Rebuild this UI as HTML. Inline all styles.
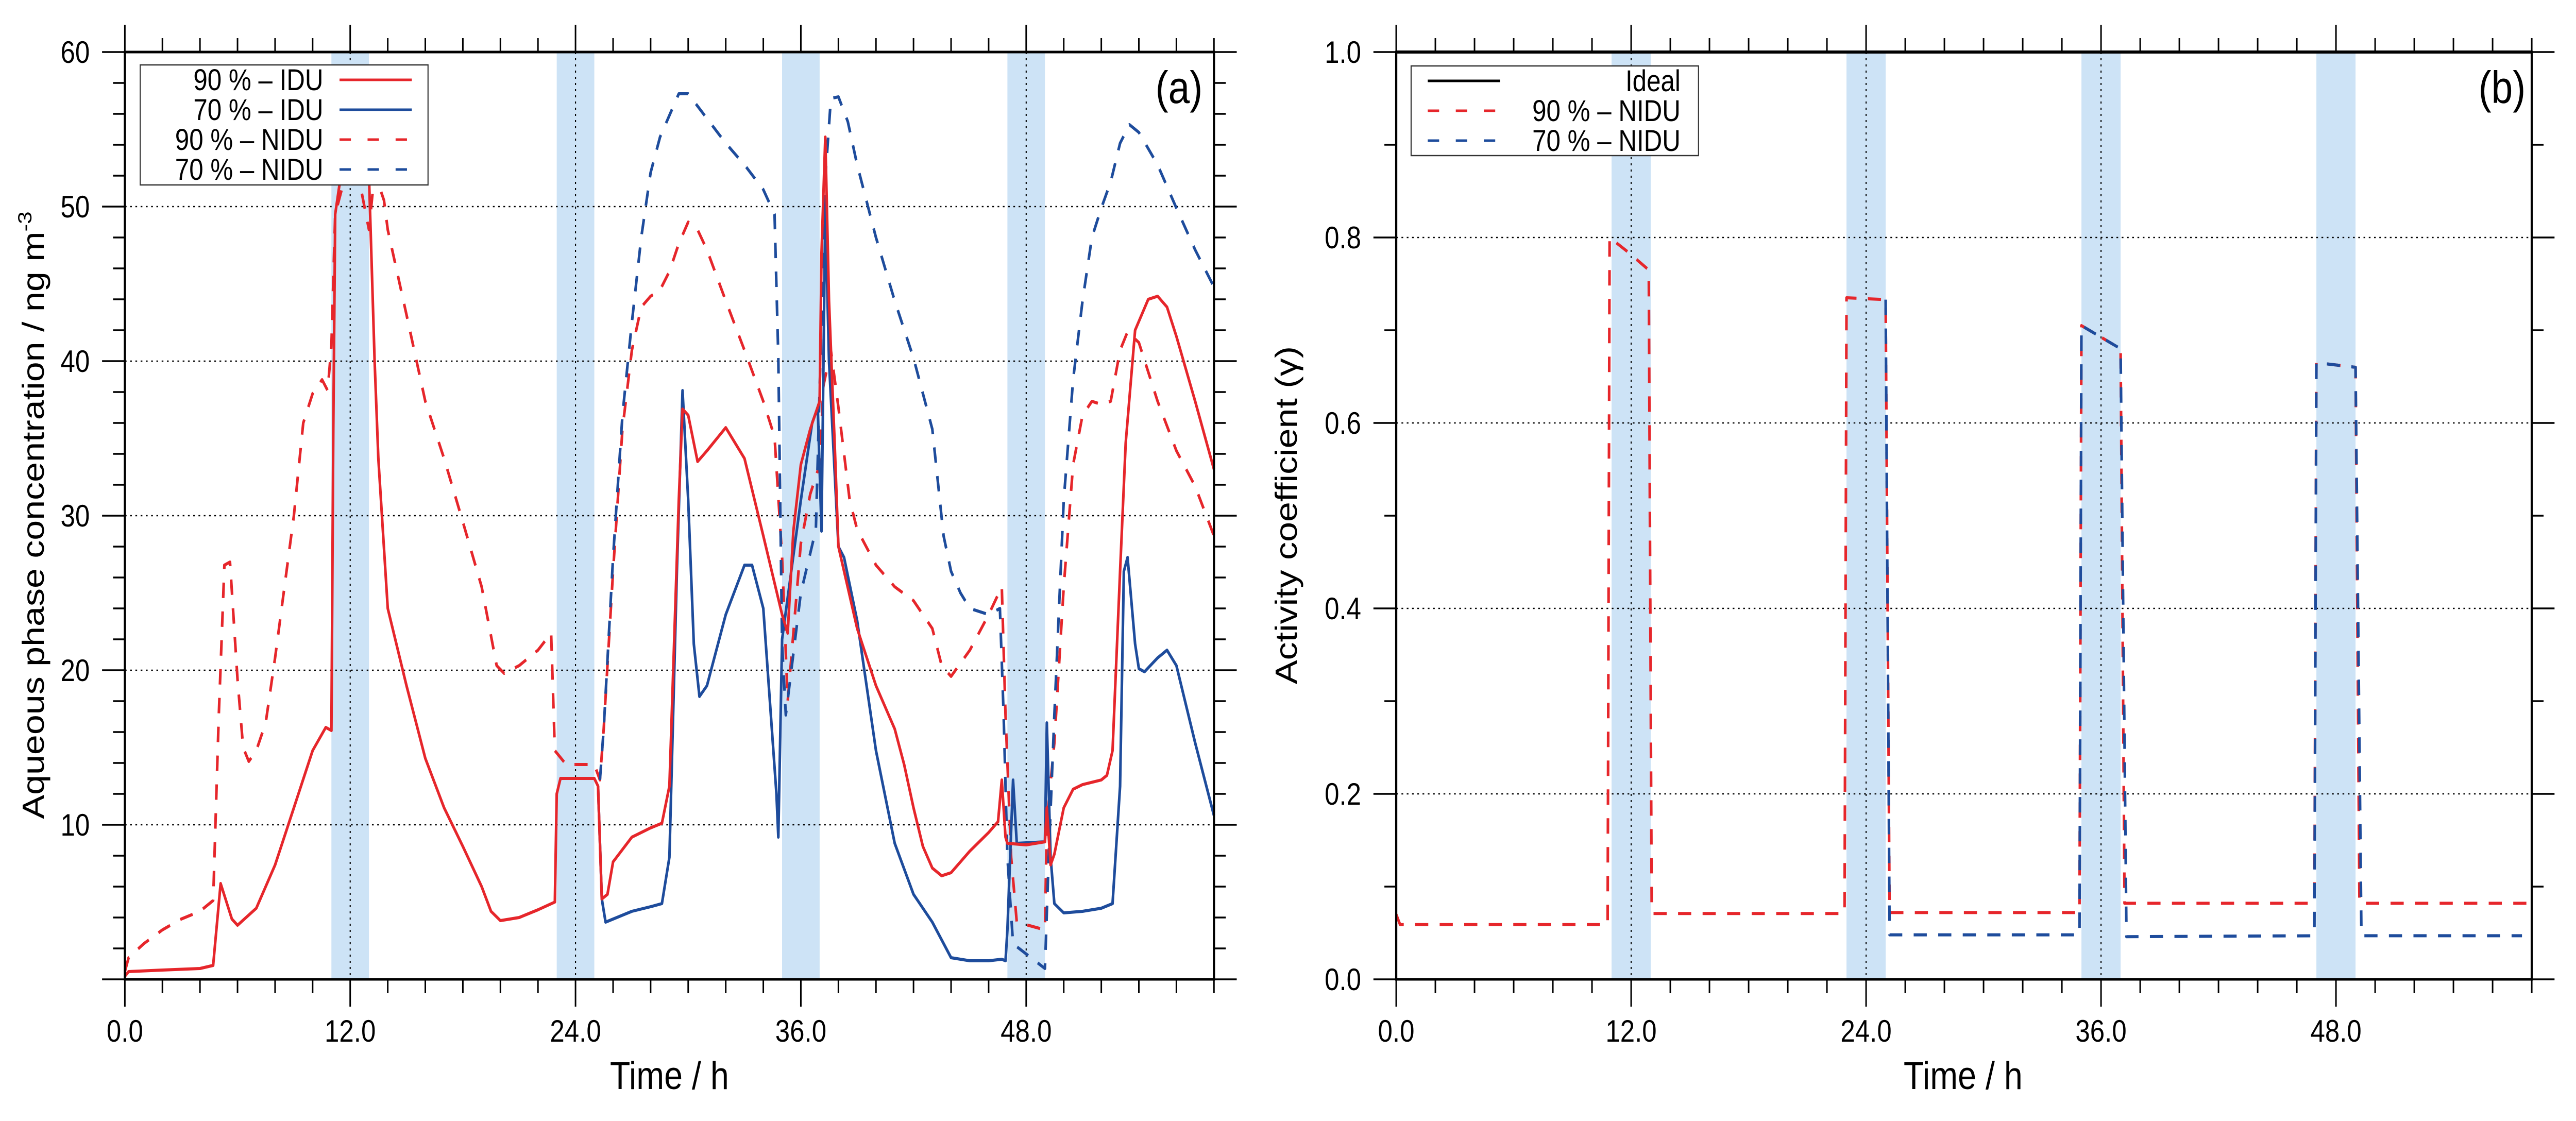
<!DOCTYPE html>
<html><head><meta charset="utf-8"><style>
html,body{margin:0;padding:0;background:#fff;overflow:hidden;width:100%;height:100%;}
svg{display:block;width:100vw;height:100vh;font-family:"Liberation Sans",sans-serif;}
.n{font-family:"Liberation Sans Narrow","Liberation Sans",sans-serif;}
</style></head><body>
<svg id="fig" viewBox="0 0 5880 2176" preserveAspectRatio="none" xmlns="http://www.w3.org/2000/svg">
<rect width="5880" height="2176" fill="#fff"/>
<g id="pa"></g>
<g id="pb"></g>
</svg>
<script>
// ---- data ----
const xTicks = [0, 12, 24, 36, 48];
const xTickLabels = ["0.0", "12.0", "24.0", "36.0", "48.0"];
const bands = [[11, 13], [23, 25], [35, 37], [47, 49]];
const aYTicks = [10, 20, 30, 40, 50, 60];
const aYTickLabels = ["10", "20", "30", "40", "50", "60"];
const bYTicks = [0, 0.2, 0.4, 0.6, 0.8, 1.0];
const bYTickLabels = ["0.0", "0.2", "0.4", "0.6", "0.8", "1.0"];

const idu90 = [[0,0.2],[0.2,0.5],[2,0.6],[4,0.7],[4.7,0.9],[5.1,6.2],[5.7,3.9],[6,3.5],[7,4.6],[8,7.4],[9,11.1],[10,14.8],[10.7,16.3],[11,16.1],[11.1,35.6],[11.2,49.5],[11.5,52],[12,55],[12.8,54],[13,52],[13.3,40],[13.5,33.7],[14,24],[15,19],[16,14.3],[17,11.1],[18,8.6],[19,6],[19.5,4.4],[20,3.8],[21,4],[22,4.5],[22.9,5.0],[23,12],[23.2,13],[25,13],[25.2,12.5],[25.4,5.2],[25.7,5.5],[26,7.6],[27,9.2],[28,9.8],[28.6,10.1],[29,12.5],[29.5,31],[29.7,36.9],[30,36.5],[30.5,33.5],[31,34.2],[32,35.7],[33,33.7],[34,28.7],[35,23.6],[35.3,22.4],[35.6,29],[36,33.3],[36.5,35.6],[37,37.4],[37.1,47],[37.3,54.5],[37.5,43.9],[37.8,34.7],[38,28],[39,22.7],[40,19],[41,16.2],[41.5,13.9],[42,11.1],[42.5,8.6],[43,7.2],[43.5,6.7],[44,6.9],[45,8.3],[46,9.5],[46.5,10.2],[46.7,12.9],[46.9,9.2],[47,8.8],[48,8.7],[49,8.9],[49.1,11.1],[49.3,7.4],[49.5,8.1],[50,11.1],[50.5,12.3],[51,12.6],[52,12.9],[52.3,13.2],[52.6,14.8],[53,26.4],[53.3,34.7],[53.8,42],[54.5,44],[55,44.2],[55.5,43.5],[56,41.6],[57,37.4],[58,33]];
const idu70 = [[25.2,12.5],[25.4,5.2],[25.6,3.7],[26,3.9],[27,4.4],[28,4.7],[28.6,4.9],[29,7.9],[29.4,26.4],[29.7,38.1],[30,31],[30.3,21.7],[30.6,18.3],[31,19],[32,23.6],[33,26.8],[33.4,26.8],[34,24],[34.7,12],[34.8,9.2],[35,22],[36,31],[36.6,36],[36.9,37],[37.1,29],[37.3,50],[37.5,40],[38,28],[38.3,27.3],[39,23.2],[40,14.8],[41,8.8],[42,5.5],[43,3.7],[44,1.4],[45,1.2],[46,1.2],[46.7,1.3],[46.9,1.2],[47,3.2],[47.3,12.9],[47.5,8.8],[49,8.9],[49.1,16.6],[49.3,7.9],[49.5,4.9],[50,4.3],[51,4.4],[52,4.6],[52.6,4.9],[53,12.5],[53.2,26.4],[53.4,27.3],[53.8,21.7],[54,20.1],[54.3,19.9],[55,20.8],[55.5,21.3],[56,20.3],[57,15.3],[58,10.6]];
const nidu90 = [[0,0.5],[0.2,1.4],[1,2.3],[2,3.2],[3,3.9],[4,4.4],[4.7,5.1],[5,17],[5.3,26.8],[5.6,27],[6,19.4],[6.3,15],[6.6,14.1],[7,14.8],[7.5,16.6],[8,20.8],[9,30],[9.5,36],[10,37.9],[10.5,38.8],[10.8,38.1],[11,41],[11.2,49.5],[11.7,51.8],[12.5,51.6],[13,48.5],[13.3,52.2],[13.8,50.4],[14,48.5],[15,43],[16,37.4],[17,33.7],[18,29.6],[19,25.4],[19.8,20.3],[20.2,19.8],[21,20.3],[22,21.3],[22.7,22.4],[22.9,14.8],[23.5,13.9],[25,13.9],[25.3,12.9],[25.5,16.2],[26,26.4],[26.5,35.6],[27,40.7],[27.5,43.5],[28,44.2],[28.5,44.6],[29,45.8],[29.5,47.6],[30,49],[30.5,48.5],[31,47.2],[32,43.9],[33,40.7],[34,37.4],[34.6,35.1],[35,27.3],[35.3,18],[36,28.2],[36.5,31.4],[37,33.3],[37.2,38.4],[37.6,40.7],[38,37],[38.6,31],[39,29.1],[40,26.8],[41,25.4],[42,24.5],[43,22.7],[43.5,20.3],[44,19.6],[45,21.3],[46,23.6],[46.7,25.4],[46.9,17.1],[47.2,7.9],[47.5,3.7],[49,3.2],[49.1,10.2],[49.5,15.3],[50,25.4],[50.5,33.3],[51,36.5],[51.5,37.4],[52,37.2],[52.5,37.4],[53,40.7],[53.4,41.9],[54,41.2],[55,37.4],[56,34.2],[57,31.9],[58,28.7]];
const nidu70 = [[25.3,12.9],[25.5,16.2],[26,27.3],[26.5,36.5],[27,42.5],[27.5,48],[28,52.2],[28.5,54.5],[29,55.9],[29.5,57.3],[30,57.3],[31,55.7],[32,54.1],[33,52.7],[34,51.1],[34.6,49.5],[34.8,40.2],[35,21.7],[35.2,17.1],[36,25],[36.8,29.1],[37.3,51.8],[37.6,57],[38,57.1],[38.5,55.5],[39,52.7],[40,48],[41,43.9],[42,40.2],[43,35.6],[43.6,28.7],[44,26.4],[44.5,25],[45,24],[46,23.6],[46.6,24],[46.8,17.1],[47,7.9],[47.3,2.3],[49,0.7],[49.2,7.9],[49.5,17.1],[50,31],[50.5,38.8],[51,43.9],[51.5,48],[52,49.9],[52.5,51.6],[53,54.1],[53.5,55.3],[54,54.8],[55,52.7],[56,49.9],[57,47.2],[58,44.8]];

const ideal = [[0,1],[58,1]];
const gamma90 = [[0,0.07],[0.2,0.059],[10.8,0.059],[10.9,0.8],[11.8,0.785],[12.9,0.765],[13.05,0.071],[22.9,0.071],[23,0.735],[25,0.733],[25.2,0.072],[34.9,0.072],[35,0.705],[37,0.68],[37.2,0.082],[46.9,0.082],[47,0.665],[49,0.66],[49.2,0.082],[58,0.082]];
const gamma70 = [[25,0.733],[25.2,0.048],[34.9,0.048],[35,0.705],[37,0.68],[37.3,0.046],[46.9,0.047],[47,0.665],[49,0.66],[49.3,0.047],[57.5,0.047]];

// ---- layout ----
const NS = "http://www.w3.org/2000/svg";
const TOP = 101, BOT = 1901, XMAX = 58;
const RED = "#e6262b", BLUE = "#1e4c9c", BAND = "#cde3f6";
function mk(parent, tag, attrs, txt) {
  const e = document.createElementNS(NS, tag);
  for (const k in attrs) e.setAttribute(k, attrs[k]);
  if (txt !== undefined) e.textContent = txt;
  parent.appendChild(e);
  return e;
}
function panel(g, L, R, ymax, yTicks, yLabels, yMinorStep, gridY, gridX) {
  const xs = h => L + h * (R - L) / XMAX;
  const ys = v => BOT - v * (BOT - TOP) / ymax;
  for (const b of bands) {
    const r = mk(g, "rect", {x: xs(b[0]), y: TOP, width: xs(b[1]) - xs(b[0]), height: BOT - TOP, fill: BAND});
    
    
  }
  for (const v of gridY) {
    const l = mk(g, "line", {x1: L, x2: R, y1: ys(v), y2: ys(v), stroke: "#000", "stroke-width": 2.5, "stroke-dasharray": "4 8"});
    
    
  }
  for (const h of gridX) {
    const l = mk(g, "line", {x1: xs(h), x2: xs(h), y1: TOP, y2: BOT, stroke: "#000", "stroke-width": 2.5, "stroke-dasharray": "4 8"});
    
    
  }
  for (let h = 0; h <= XMAX; h += 2) {
    const major = h % 12 === 0;
    const len = major ? 53 : 27;
    const t1 = mk(g, "line", {x1: xs(h), x2: xs(h), y1: TOP, y2: TOP - len, stroke: "#000", "stroke-width": 3.5});
    
    
    const t2 = mk(g, "line", {x1: xs(h), x2: xs(h), y1: BOT, y2: BOT + len, stroke: "#000", "stroke-width": 3.5});
    
    
  }
  xTicks.forEach((h, i) => {
    const t = mk(g, "text", {x: xs(h), y: 2022, "font-size": 60, "text-anchor": "middle", "class": "n"}, xTickLabels[i]);
    
    
  });
  for (let v = 0; v <= ymax + 1e-9; v += yMinorStep) {
    const isMajor = yTicks.some(m => Math.abs(m - v) < 1e-6) || Math.abs(v) < 1e-9;
    const len = isMajor ? 52 : 27;
    const y = ys(v);
    const a = mk(g, "line", {x1: L, x2: L - len, y1: y, y2: y, stroke: "#000", "stroke-width": 3.5});
    
    
    const b = mk(g, "line", {x1: R, x2: R + len, y1: y, y2: y, stroke: "#000", "stroke-width": 3.5});
    
    
  }
  yTicks.forEach((v, i) => {
    const t = mk(g, "text", {x: L - 80, y: ys(v) + 21, "font-size": 60, "text-anchor": "end", "class": "n"}, yLabels[i]);
    
    
  });
  return {xs, ys};
}
function series(g, sc, pts, color, dashed, name) {
  const d = pts.map((p, i) => (i ? "L" : "M") + sc.xs(p[0]).toFixed(1) + " " + sc.ys(p[1]).toFixed(1)).join(" ");
  const p = mk(g, "path", {d: d, fill: "none", stroke: color, "stroke-width": 6, "stroke-linejoin": "round"});
  if (dashed) p.setAttribute("stroke-dasharray", "30 26");
  
  
}
function frame(g, L, R) {
  const f = mk(g, "rect", {x: L, y: TOP, width: R - L, height: BOT - TOP, fill: "none", stroke: "#000", "stroke-width": 5});
  
  
}
function legend(g, x, y, w, h, rows, textRight, lineX1, lineX2, rowY0, step) {
  const lg = mk(g, "g", {});
  
  
  mk(lg, "rect", {x: x, y: y, width: w, height: h, fill: "#fff", stroke: "#333", "stroke-width": 2.5});
  rows.forEach((r, i) => {
    const cy = rowY0 + i * step;
    const e = mk(lg, "g", {});
    
    
    mk(e, "text", {x: textRight, y: cy + 20, "font-size": 58, "text-anchor": "end", "class": "n"}, r.label);
    const l = mk(e, "line", {x1: lineX1, x2: lineX2, y1: cy, y2: cy, stroke: r.color, "stroke-width": 5});
    if (r.dashed) l.setAttribute("stroke-dasharray", "26 38");
  });
}

// ---- panel a ----
const ga = document.getElementById("pa");
const sa = panel(ga, 285, 2771, 60, aYTicks, aYTickLabels, 2, [10, 20, 30, 40, 50], [12, 24, 48]);
series(ga, sa, nidu90, RED, true, "line-90-nidu");
series(ga, sa, nidu70, BLUE, true, "line-70-nidu");
series(ga, sa, idu70, BLUE, false, "line-70-idu");
series(ga, sa, idu90, RED, false, "line-90-idu");
frame(ga, 285, 2771);
legend(ga, 320, 126, 657, 233, [
  {label: "90 %  – IDU", color: RED, dashed: false},
  {label: "70 %  – IDU", color: BLUE, dashed: false},
  {label: "90 %  – NIDU", color: RED, dashed: true},
  {label: "70 %  – NIDU", color: BLUE, dashed: true}], 738, 775, 940, 155, 58);
let t;
t = mk(ga, "text", {x: 2745, y: 200, "font-size": 88, "text-anchor": "end", "class": "n"}, "(a)");
 
t = mk(ga, "text", {x: 1528, y: 2114, "font-size": 76, "text-anchor": "middle", "class": "n"}, "Time / h");
 
t = mk(ga, "text", {x: 100, y: 1000, "font-size": 70, "text-anchor": "middle", transform: "rotate(-90 100 1000)"});
 
t.innerHTML = 'Aqueous phase concentration / ng m<tspan dy="-28" font-size="44">-3</tspan>';

// ---- panel b ----
const gb = document.getElementById("pb");
const sb = panel(gb, 3187, 5779, 1, bYTicks, bYTickLabels, 0.1, [0.2, 0.4, 0.6, 0.8], [12, 24, 36]);
series(gb, sb, ideal, "#000", false, "line-ideal");
series(gb, sb, gamma90, RED, true, "line-90-nidu");
series(gb, sb, gamma70, BLUE, true, "line-70-nidu");
frame(gb, 3187, 5779);
legend(gb, 3221, 128, 656, 174, [
  {label: "Ideal", color: "#000", dashed: false},
  {label: "90 %  – NIDU", color: RED, dashed: true},
  {label: "70 %  – NIDU", color: BLUE, dashed: true}], 3836, 3259, 3424, 157, 58);
t = mk(gb, "text", {x: 5765, y: 200, "font-size": 88, "text-anchor": "end", "class": "n"}, "(b)");
 
t = mk(gb, "text", {x: 4481, y: 2114, "font-size": 76, "text-anchor": "middle", "class": "n"}, "Time / h");
 
t = mk(gb, "text", {x: 2960, y: 1000, "font-size": 70, "text-anchor": "middle", transform: "rotate(-90 2960 1000)"}, "Activity coefficient (γ)");
 
</script>
</body></html>
